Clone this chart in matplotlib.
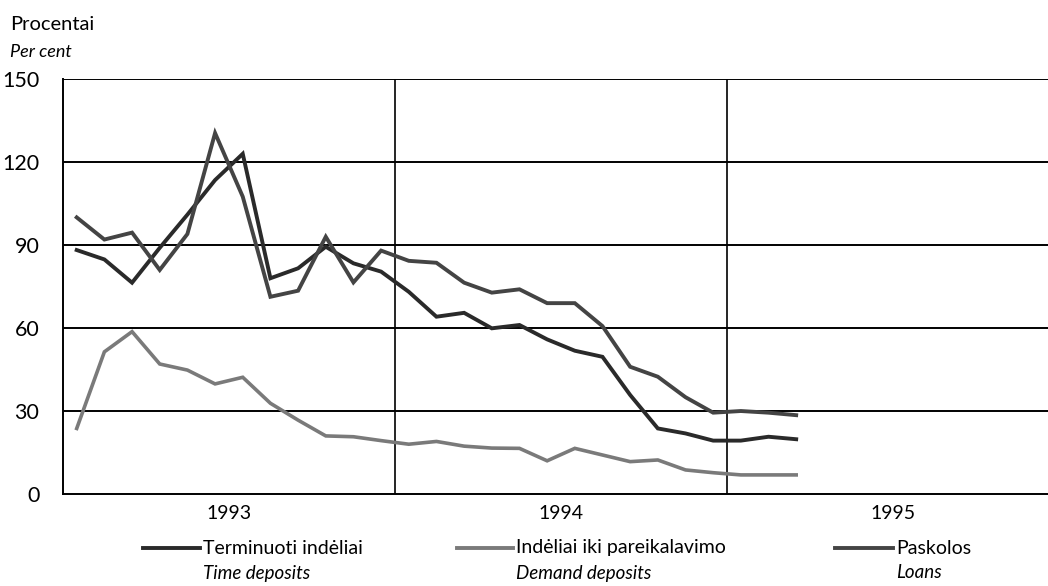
import numpy as np
import matplotlib.pyplot as plt
from matplotlib.lines import Line2D

# menesiniai duomenys, 1993 sausis - 1995 kovas
menesiai = np.arange(27) + 0.5
metai = ["1993", "1994", "1995"]
y_ticks = [0, 30, 60, 90, 120, 150]

terminuoti = [88.2, 84.8, 76.4, 89.0, 101.0, 113.5, 123.0, 78.0, 81.6, 89.4, 83.4, 80.4,
              73.1, 64.1, 65.5, 59.9, 61.1, 55.9, 51.8, 49.6, 35.8, 23.7, 21.9, 19.3,
              19.3, 20.7, 19.8]
pareikalavimo = [23.7, 51.4, 58.7, 47.0, 44.8, 39.8, 42.2, 32.8, 26.7, 21.0, 20.7, 19.3,
                 18.0, 19.0, 17.3, 16.6, 16.5, 12.0, 16.5, 14.1, 11.7, 12.3, 8.7, 7.7,
                 6.9, 6.9, 6.9]
paskolos = [100.0, 92.0, 94.5, 81.0, 94.0, 130.5, 107.5, 71.3, 73.5, 93.0, 76.5, 88.0,
            84.3, 83.6, 76.4, 72.8, 74.0, 69.0, 69.0, 60.7, 46.0, 42.4, 35.0, 29.4,
            30.0, 29.4, 28.5]

plt.rcParams['font.family'] = ['Lato', 'DejaVu Sans']

fig = plt.figure(figsize=(10.48, 5.86), dpi=100)
ax = fig.add_axes([0.060, 0.157, 0.940, 0.708])

c_term = '#2a2a2a'
c_dem = '#7a7a7a'
c_pask = '#444444'

ax.plot(menesiai, terminuoti, color=c_term, lw=2.8, solid_joinstyle='miter')
ax.plot(menesiai, pareikalavimo, color=c_dem, lw=2.6, solid_joinstyle='miter')
ax.plot(menesiai, paskolos, color=c_pask, lw=2.8, solid_joinstyle='miter')

ax.set_xlim(0, 35.6)
ax.set_ylim(0, 150)
ax.set_yticks(y_ticks)
ax.set_yticklabels([str(v) for v in y_ticks], fontsize=15.5)
for v in y_ticks[1:]:
    ax.axhline(v, color='black', lw=1.4, zorder=0)
for m in [12, 24]:
    ax.axvline(m, color='black', lw=1.2, zorder=0)

ax.set_xticks([6, 18, 30])
ax.set_xticklabels(metai, fontsize=14)
ax.tick_params(length=0, pad=8)
ax.tick_params(axis='y', pad=17)
for s in ['top', 'right']:
    ax.spines[s].set_visible(False)
ax.spines['left'].set_linewidth(1.4)
ax.spines['bottom'].set_linewidth(1.4)

fig.text(10 / 1048, 1 - 25 / 586, "Procentai", fontsize=14.5, va='center')
fig.text(10 / 1048, 1 - 52 / 586, "Per cent", fontsize=13, style='italic', va='center')

# legenda
legenda = [(143, 200, "Terminuoti indėliai", "Time deposits", c_term),
           (457, 513, "Indėliai iki pareikalavimo", "Demand deposits", c_dem),
           (835, 893, "Paskolos", "Loans", c_pask)]
for x0, x1, lt, en, c in legenda:
    yy = 1 - 548 / 586
    fig.add_artist(Line2D([x0 / 1048, x1 / 1048], [yy, yy], color=c, lw=2.8,
                          transform=fig.transFigure))
    fig.text((x1 + 3) / 1048, yy, lt, fontsize=14, va='center')
    fig.text((x1 + 3) / 1048, 1 - 573 / 586, en, fontsize=13.5, style='italic', va='center')

fig.savefig("out.png", dpi=100)
